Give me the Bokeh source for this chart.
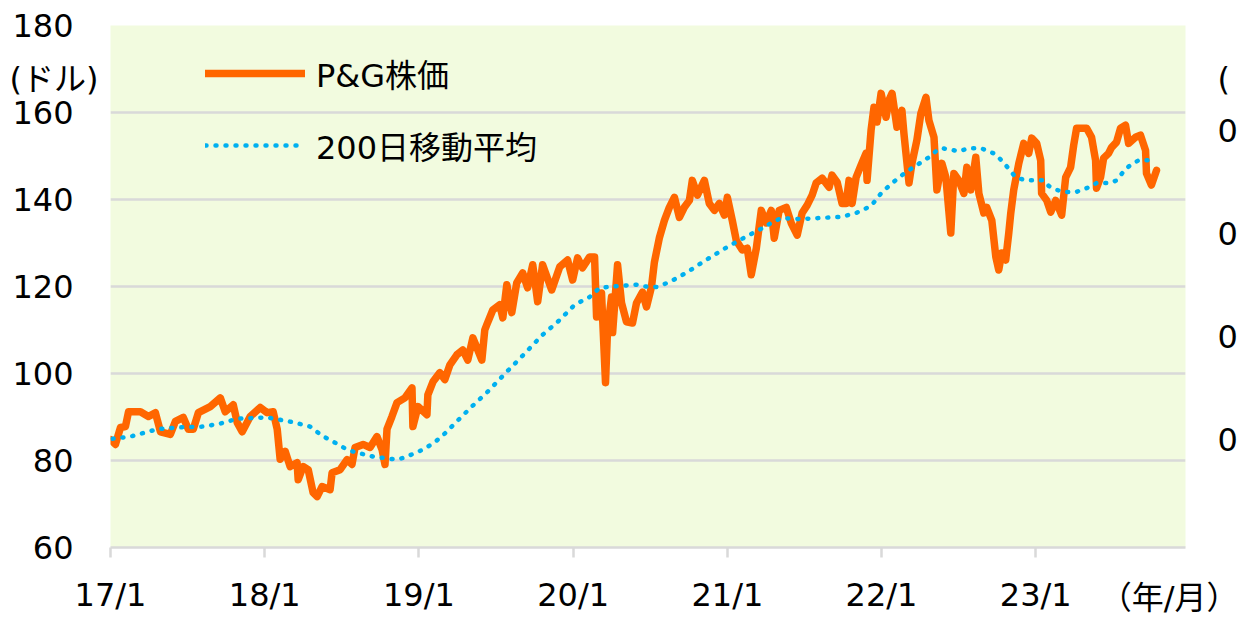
from bokeh.plotting import figure
from bokeh.models import Range1d, FixedTicker, Legend, LegendItem, LinearAxis
from bokeh.embed import file_html
from bokeh.resources import INLINE

# ---- data (decimal year, USD) ----
price_t = [
    2017.000, 2017.032, 2017.065, 2017.097, 2017.117, 2017.194, 2017.246, 2017.291, 2017.324, 2017.388,
    2017.421, 2017.472, 2017.505, 2017.537, 2017.570, 2017.647, 2017.712, 2017.744, 2017.796, 2017.822,
    2017.854, 2017.906, 2017.971, 2018.016, 2018.055, 2018.081, 2018.100, 2018.133, 2018.165, 2018.210,
    2018.217, 2018.249, 2018.282, 2018.314, 2018.340, 2018.372, 2018.424, 2018.437, 2018.489, 2018.534,
    2018.566, 2018.586, 2018.638, 2018.683, 2018.728, 2018.761, 2018.780, 2018.793, 2018.825, 2018.858,
    2018.909, 2018.955, 2018.961, 2018.994, 2019.052, 2019.058, 2019.091, 2019.136, 2019.168, 2019.201,
    2019.246, 2019.285, 2019.317, 2019.350, 2019.408, 2019.427, 2019.440, 2019.479, 2019.524, 2019.544,
    2019.570, 2019.602, 2019.634, 2019.673, 2019.705, 2019.738, 2019.770, 2019.802, 2019.861, 2019.913,
    2019.964, 2019.997, 2020.029, 2020.061, 2020.107, 2020.139, 2020.152, 2020.184, 2020.210, 2020.223,
    2020.249, 2020.256, 2020.288, 2020.314, 2020.346, 2020.385, 2020.411, 2020.450, 2020.476, 2020.508,
    2020.527, 2020.560, 2020.592, 2020.624, 2020.657, 2020.689, 2020.721, 2020.754, 2020.773, 2020.806,
    2020.851, 2020.883, 2020.916, 2020.948, 2020.981, 2021.000, 2021.032, 2021.058, 2021.097, 2021.129,
    2021.155, 2021.188, 2021.220, 2021.252, 2021.285, 2021.304, 2021.336, 2021.382, 2021.414, 2021.453,
    2021.485, 2021.518, 2021.550, 2021.576, 2021.615, 2021.660, 2021.679, 2021.712, 2021.744, 2021.770,
    2021.789, 2021.809, 2021.835, 2021.867, 2021.899, 2021.906, 2021.932, 2021.951, 2021.971, 2021.997,
    2022.029, 2022.048, 2022.068, 2022.100, 2022.132, 2022.145, 2022.178, 2022.197, 2022.229, 2022.255,
    2022.288, 2022.307, 2022.340, 2022.359, 2022.391, 2022.417, 2022.449, 2022.469, 2022.501, 2022.534,
    2022.553, 2022.579, 2022.611, 2022.631, 2022.663, 2022.682, 2022.715, 2022.741, 2022.760, 2022.779,
    2022.805, 2022.825, 2022.838, 2022.857, 2022.890, 2022.922, 2022.954, 2022.974, 2023.006, 2023.032,
    2023.038, 2023.071, 2023.097, 2023.129, 2023.168, 2023.194, 2023.226, 2023.246, 2023.265, 2023.330,
    2023.362, 2023.388, 2023.394, 2023.420, 2023.440, 2023.472, 2023.492, 2023.524, 2023.550, 2023.582,
    2023.602, 2023.647, 2023.679, 2023.712, 2023.718, 2023.750, 2023.783,
]
price_v = [
    84.8, 83.7, 87.6, 87.8, 91.2, 91.2, 90.1, 91.0, 86.6, 86.0,
    89.0, 89.9, 87.2, 87.2, 91.0, 92.4, 94.4, 91.2, 92.8, 88.7,
    86.6, 90.1, 92.2, 91.0, 91.2, 87.2, 80.3, 82.1, 78.6, 79.5,
    75.6, 78.6, 77.9, 72.6, 71.7, 74.0, 73.3, 77.2, 77.9, 80.2,
    79.1, 83.0, 83.7, 83.0, 85.5, 82.5, 79.1, 87.2, 90.1, 93.3,
    94.4, 96.7, 87.8, 92.4, 90.5, 95.1, 98.1, 100.2, 98.6, 102.0,
    104.3, 105.4, 103.1, 108.2, 103.1, 110.0, 111.2, 114.6, 115.8, 112.8,
    120.4, 114.0, 120.8, 123.1, 119.7, 125.0, 116.5, 125.0, 119.2, 124.5,
    126.1, 121.5, 126.6, 124.3, 126.8, 126.8, 113.0, 118.5, 97.9, 110.0,
    117.6, 109.4, 125.0, 116.2, 111.9, 111.6, 116.2, 118.7, 115.3, 119.9,
    125.6, 131.3, 135.2, 138.2, 140.5, 135.9, 138.2, 139.8, 144.4, 141.0,
    144.4, 139.1, 137.5, 139.1, 136.4, 140.5, 135.2, 130.6, 128.4, 128.8,
    122.7, 128.8, 137.5, 134.6, 137.5, 131.1, 137.5, 138.2, 134.6, 131.8,
    136.9, 138.7, 141.0, 143.8, 144.9, 142.8, 145.6, 144.0, 139.1, 139.1,
    144.4, 139.1, 145.1, 147.9, 150.6, 144.4, 155.9, 161.2, 157.8, 164.4,
    158.9, 162.8, 164.4, 156.6, 160.5, 155.2, 143.8, 148.3, 153.6, 159.8,
    163.5, 158.2, 154.3, 142.2, 148.3, 145.1, 132.3, 146.0, 144.4, 141.4,
    147.4, 142.2, 149.7, 141.4, 136.9, 138.2, 135.2, 126.8, 123.8, 127.7,
    126.1, 132.3, 136.9, 142.2, 148.3, 152.9, 150.6, 154.1, 152.9, 149.0,
    141.4, 139.8, 137.1, 139.8, 136.4, 145.1, 147.4, 152.5, 156.4, 156.4,
    154.3, 149.0, 142.6, 145.1, 149.5, 150.6, 152.0, 153.2, 156.4, 157.1,
    152.9, 154.3, 154.8, 151.3, 146.0, 143.3, 146.7,
]
ma_t = [
    2017.013, 2017.129, 2017.304, 2017.434, 2017.602, 2017.712, 2017.822, 2018.016, 2018.184, 2018.294,
    2018.372, 2018.456, 2018.534, 2018.599, 2018.702, 2018.812, 2018.858, 2018.909, 2019.039, 2019.116,
    2019.168, 2019.252, 2019.343, 2019.440, 2019.570, 2019.673, 2019.796, 2019.913, 2020.010, 2020.107,
    2020.172, 2020.288, 2020.411, 2020.463, 2020.540, 2020.624, 2020.741, 2020.871, 2021.000, 2021.129,
    2021.227, 2021.304, 2021.350, 2021.479, 2021.576, 2021.738, 2021.835, 2021.932, 2022.003, 2022.113,
    2022.197, 2022.307, 2022.353, 2022.391, 2022.501, 2022.566, 2022.644, 2022.741, 2022.805, 2022.870,
    2022.935, 2023.052, 2023.084, 2023.136, 2023.194, 2023.259, 2023.343, 2023.394, 2023.485, 2023.524,
    2023.582, 2023.621, 2023.667, 2023.725, 2023.777,
]
ma_v = [
    85.0, 85.5, 87.2, 87.6, 87.8, 88.5, 89.6, 89.9, 88.8, 87.8,
    85.7, 84.1, 82.5, 81.8, 80.9, 80.4, 80.2, 80.7, 82.7, 84.6,
    86.2, 89.2, 92.4, 95.6, 100.4, 104.1, 108.7, 112.3, 115.8, 117.6,
    119.7, 120.1, 120.4, 120.0, 119.9, 121.0, 123.3, 126.3, 129.1, 131.6,
    133.4, 135.0, 135.7, 135.5, 135.7, 136.0, 136.9, 138.5, 141.7, 145.1,
    147.2, 149.7, 151.1, 151.8, 151.1, 151.8, 151.8, 150.4, 147.9, 145.1,
    144.4, 144.4, 143.1, 142.2, 141.7, 141.7, 142.8, 143.8, 143.8, 144.4,
    147.0, 148.1, 149.0, 149.0, 148.3,
]
year_ticks = [2017, 2018, 2019, 2020, 2021, 2022, 2023]
year_labels = ["17/1", "18/1", "19/1", "20/1", "21/1", "22/1", "23/1"]
x_unit_label = "（年/月）"
x_unit_pos = 2023.865
y_ticks = [60, 80, 100, 120, 140, 160, 180]
y_unit_label = "(ドル)"
y_unit_pos = 167.8
series_names = ["P&G株価", "200日移動平均"]
right_ticks = [167.8, 155.7, 132.0, 108.4, 84.8]
right_labels = ["(", "0", "0", "0", "0"]

FONT = "'DejaVu Sans', 'Noto Sans CJK JP', sans-serif"
FS = "32px"
GRID = "#d9d9d9"


def label_axis(ticks, labels, standoff):
    """An axis that only carries text labels (no line, no tick marks)."""
    return LinearAxis(ticker=FixedTicker(ticks=ticks),
                      major_label_overrides={t: l for t, l in zip(ticks, labels)},
                      axis_line_color=None, major_tick_line_color=None,
                      minor_tick_line_color=None, major_tick_out=0, major_tick_in=0,
                      major_label_text_font=FONT, major_label_text_font_size=FS,
                      major_label_text_color="black", major_label_standoff=standoff)


x_end = 2023.971
p = figure(width=1240, height=619, output_backend="svg", toolbar_location=None,
           x_range=Range1d(2017.0, x_end), y_range=Range1d(60, 180),
           min_border_left=110, min_border_right=53, min_border_top=25, min_border_bottom=71)
p.background_fill_color = "#f2fbdf"
p.border_fill_color = "white"
p.outline_line_color = None

# x axis
xa = p.xaxis[0]
xa.ticker = FixedTicker(ticks=year_ticks)
xa.major_label_overrides = {t: l for t, l in zip(year_ticks, year_labels)}
xa.axis_line_color = GRID
xa.axis_line_width = 2.5
xa.major_tick_line_color = GRID
xa.major_tick_line_width = 2.5
xa.major_tick_out = 10
xa.major_tick_in = 0
xa.minor_tick_line_color = None
xa.major_label_text_font = FONT
xa.major_label_text_font_size = FS
xa.major_label_text_color = "black"
xa.major_label_standoff = 18

# y axis
ya = p.yaxis[0]
ya.ticker = FixedTicker(ticks=y_ticks)
ya.axis_line_color = None
ya.major_tick_line_color = None
ya.minor_tick_line_color = None
ya.major_label_text_font = FONT
ya.major_label_text_font_size = FS
ya.major_label_text_color = "black"
ya.major_label_standoff = 31

# unit labels carried by extra text-only axes, pulled back onto the same rows
p.add_layout(label_axis([y_unit_pos], [y_unit_label], -89), "left")
p.add_layout(label_axis([x_unit_pos], [x_unit_label], -38), "below")

# right axis (only its first characters are visible in the reference)
p.add_layout(label_axis(right_ticks, right_labels, 32), "right")

p.xgrid.grid_line_color = None
p.ygrid.ticker = FixedTicker(ticks=y_ticks)
p.ygrid.grid_line_color = GRID
p.ygrid.grid_line_width = 2.5

r1 = p.line(price_t, price_v, line_color="#ff6600", line_width=7.5,
            line_join="round", line_cap="round")
r2 = p.line(ma_t, ma_v, line_color="#00b0f0", line_width=4.5,
            line_dash="1 9", line_cap="round")

legend = Legend(items=[LegendItem(label=series_names[0], renderers=[r1]),
                       LegendItem(label=series_names[1], renderers=[r2])],
                location=(95, 379), glyph_width=100, glyph_height=40,
                label_height=40, spacing=26, padding=0, margin=0,
                label_standoff=11, background_fill_alpha=0,
                border_line_color=None, label_text_font=FONT,
                label_text_font_size=FS, label_text_color="black")
p.add_layout(legend)

open("out.html", "w").write(file_html(p, INLINE))
